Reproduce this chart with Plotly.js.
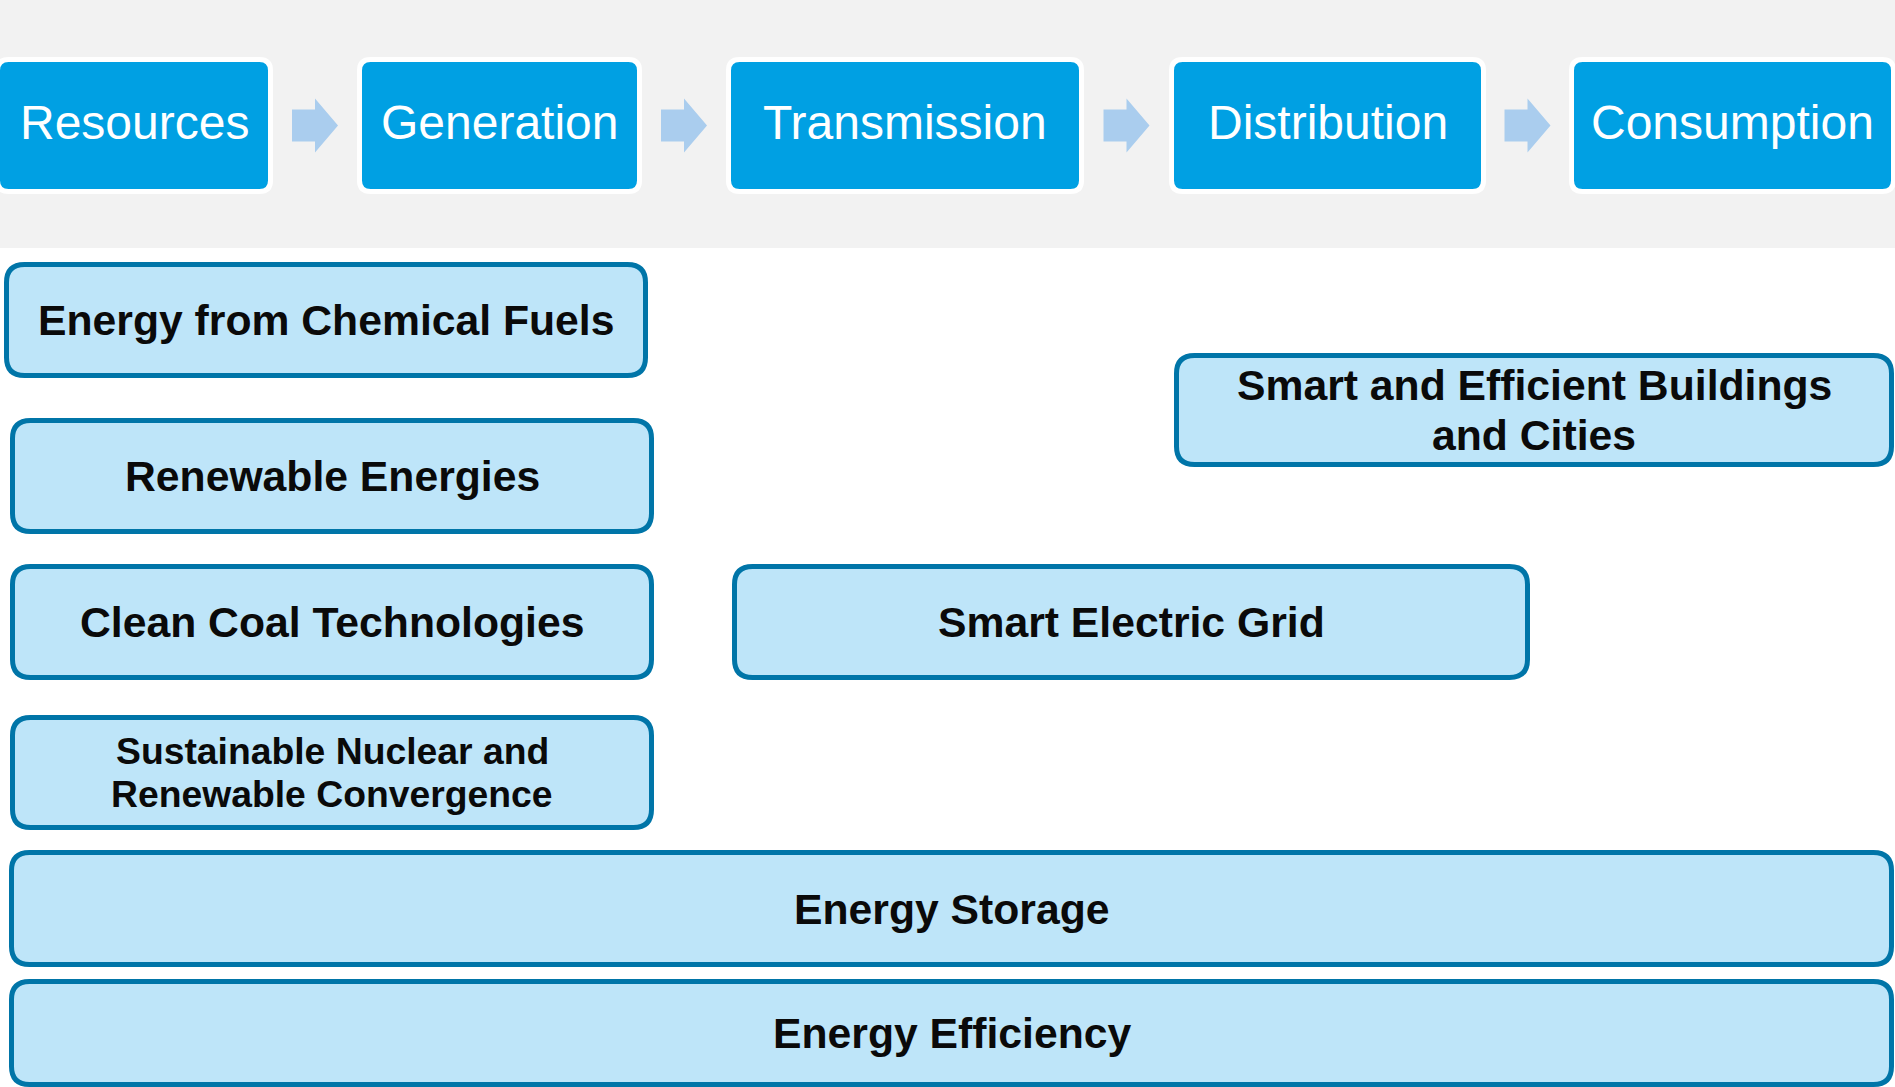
<!DOCTYPE html>
<html>
<head>
<meta charset="utf-8">
<script src="https://cdn.plot.ly/plotly-3.0.1.min.js"></script>
<style>
  html, body { margin: 0; padding: 0; background: #ffffff; }
  #chart { width: 1895px; height: 1087px; }
</style>
</head>
<body>
<div id="chart"></div>
<script>
// ---------------- DATA (in value-chain axis units) ----------------
const stageLabels = ['Resources', 'Generation', 'Transmission', 'Distribution', 'Consumption'];
const stageStart  = [0, 362, 731, 1174, 1574];
const stageEnd    = [268, 637, 1079, 1481, 1891];

const topicLabels = [
  'Energy from Chemical Fuels',
  'Renewable Energies',
  'Clean Coal Technologies',
  'Sustainable Nuclear and<br>Renewable Convergence',
  'Smart and Efficient Buildings<br>and Cities',
  'Smart Electric Grid',
  'Energy Storage',
  'Energy Efficiency'
];
const topicStart  = [4, 10, 10, 10, 1174, 732, 9, 9];
const topicEnd    = [648, 654, 654, 654, 1894, 1530, 1894, 1894];
const topicTop    = [262, 418, 564, 715, 353, 564, 850, 979];
const topicBottom = [378, 534, 680, 830, 467, 680, 967, 1087];

// ---------------- LAYOUT / STYLE CONSTANTS ----------------
const W = 1895, H = 1087;
const bandTop = 0, bandBottom = 248;
const headerTop = 62, headerBottom = 189;
const arrowLen = 46, arrowHead = 23, shaftHalf = 16, headHalf = 27;
const FONT = '"Liberation Sans", Arial, Helvetica, sans-serif';
const C = {
  band: '#F2F2F2',
  header: '#00A0E3',
  headerBorder: '#FFFFFF',
  arrow: '#AACDEE',
  topicFill: '#BEE5F9',
  topicLine: '#0075A8',
  text: '#0a0a0a'
};
const headerFontSize = 48;
const labelFontSize = { 'Sustainable Nuclear and<br>Renewable Convergence': 37.3 };
const defaultTopicFont = 42.7;
const lineGapRatio = 1.17;

function rr(x0, y0, x1, y1, r) {
  return `M ${x0 + r},${y0} L ${x1 - r},${y0} Q ${x1},${y0} ${x1},${y0 + r} ` +
         `L ${x1},${y1 - r} Q ${x1},${y1} ${x1 - r},${y1} L ${x0 + r},${y1} ` +
         `Q ${x0},${y1} ${x0},${y1 - r} L ${x0},${y0 + r} Q ${x0},${y0} ${x0 + r},${y0} Z`;
}

const shapes = [];
const annotations = [];

// grey band behind the value chain
shapes.push({ type: 'rect', xref: 'x', yref: 'y', x0: 0, x1: W, y0: bandTop, y1: bandBottom,
  fillcolor: C.band, line: { width: 0 }, layer: 'below' });

// stage boxes
stageLabels.forEach((lab, i) => {
  const x0 = stageStart[i] - 2.5, x1 = stageEnd[i] + 2.5;
  const y0 = headerTop - 2.5, y1 = headerBottom + 2.5;
  shapes.push({ type: 'path', xref: 'x', yref: 'y', path: rr(x0, y0, x1, y1, 11),
    fillcolor: C.header, line: { color: C.headerBorder, width: 5 }, layer: 'above' });
  annotations.push({ xref: 'x', yref: 'y', x: (stageStart[i] + stageEnd[i]) / 2,
    y: (headerTop + headerBottom) / 2, yshift: 3, text: lab, showarrow: false,
    xanchor: 'center', yanchor: 'middle',
    font: { family: FONT, size: headerFontSize, color: '#FFFFFF' } });
});

// arrows between stages
for (let i = 0; i < stageLabels.length - 1; i++) {
  const cx = (stageEnd[i] + stageStart[i + 1]) / 2;
  const cy = (headerTop + headerBottom) / 2;
  const a0 = cx - arrowLen / 2, a1 = cx + arrowLen / 2, ah = a1 - arrowHead;
  const p = `M ${a0},${cy - shaftHalf} L ${ah},${cy - shaftHalf} L ${ah},${cy - headHalf} ` +
            `L ${a1},${cy} L ${ah},${cy + headHalf} L ${ah},${cy + shaftHalf} L ${a0},${cy + shaftHalf} Z`;
  shapes.push({ type: 'path', xref: 'x', yref: 'y', path: p,
    fillcolor: C.arrow, line: { width: 0 }, layer: 'above' });
}

// topic boxes
topicLabels.forEach((lab, i) => {
  const x0 = topicStart[i] + 2.5, x1 = topicEnd[i] - 2.5;
  const y0 = topicTop[i] + 2.5, y1 = topicBottom[i] - 2.5;
  shapes.push({ type: 'path', xref: 'x', yref: 'y', path: rr(x0, y0, x1, y1, 18),
    fillcolor: C.topicFill, line: { color: C.topicLine, width: 5 }, layer: 'above' });
  const fs = labelFontSize[lab] || defaultTopicFont;
  const lines = lab.split('<br>');
  const cx = (topicStart[i] + topicEnd[i]) / 2;
  const cy = (topicTop[i] + topicBottom[i]) / 2;
  const gap = fs * lineGapRatio;
  lines.forEach((ln, k) => {
    const off = (k - (lines.length - 1) / 2) * gap;
    annotations.push({ xref: 'x', yref: 'y', x: cx, y: cy + off, text: ln, showarrow: false,
      xanchor: 'center', yanchor: 'middle',
      font: { family: FONT, size: fs, color: C.text, weight: 'bold' } });
  });
});

const layout = {
  width: W, height: H,
  margin: { l: 0, r: 0, t: 0, b: 0, pad: 0 },
  paper_bgcolor: '#FFFFFF', plot_bgcolor: '#FFFFFF',
  showlegend: false,
  xaxis: { range: [0, W], visible: false, fixedrange: true },
  yaxis: { range: [H, 0], visible: false, fixedrange: true },
  shapes: shapes,
  annotations: annotations
};

const data = [{ type: 'scatter', x: [0], y: [0], mode: 'markers',
  marker: { opacity: 0 }, hoverinfo: 'skip', showlegend: false }];

Plotly.newPlot('chart', data, layout, { displayModeBar: false, staticPlot: true });
</script>
</body>
</html>
